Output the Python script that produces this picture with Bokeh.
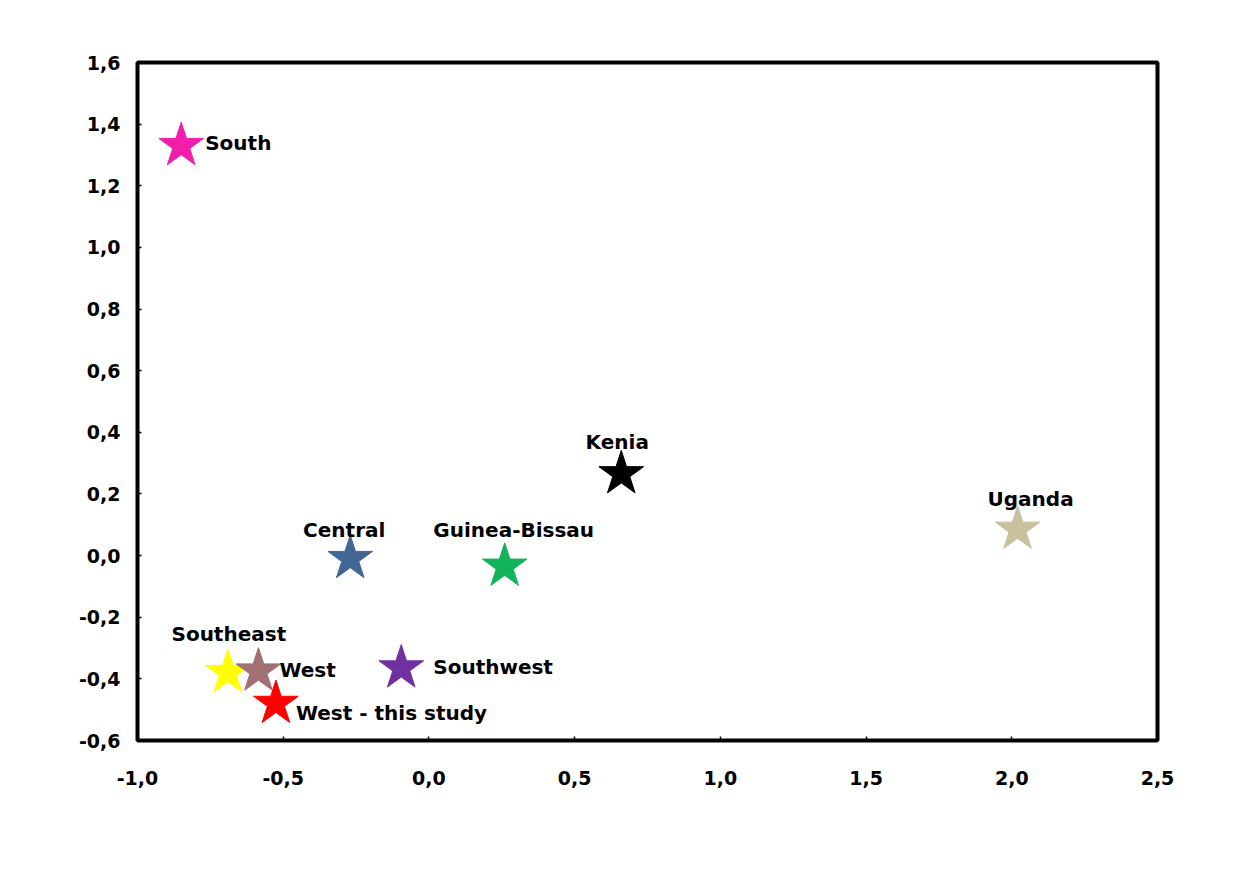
from bokeh.plotting import figure
from bokeh.models import ColumnDataSource, LinearAxis, FixedTicker, CustomJSTickFormatter, Range1d
from bokeh.core.properties import value
from bokeh.embed import file_html
from bokeh.resources import INLINE

# Data
names = ["South", "Kenia", "Uganda", "Central", "Guinea-Bissau",
         "Southeast", "West", "West - this study", "Southwest"]
xs = [-0.85, 0.66, 2.02, -0.27, 0.26, -0.69, -0.585, -0.525, -0.095]
ys = [1.33, 0.265, 0.085, -0.01, -0.035, -0.38, -0.375, -0.48, -0.365]
colors = ["#F21DAA", "#000000", "#C9C09E", "#426795", "#12B35A",
          "#FFFF00", "#A26F72", "#FF0000", "#7030A0"]
x_ticks = [-1.0, -0.5, 0.0, 0.5, 1.0, 1.5, 2.0, 2.5]
y_ticks = [-0.6, -0.4, -0.2, 0.0, 0.2, 0.4, 0.6, 0.8, 1.0, 1.2, 1.4, 1.6]

# label placement (style, pixel offsets)
lab_dx = [24, -4, 13, -6, 9, 1, 21, 20, 32]
lab_dy = [-3, -32, -30, -29, -36, -39, -1, 9, -1]
lab_align = ["left", "center", "center", "center", "center", "center", "left", "left", "left"]

src = ColumnDataSource(dict(x=xs, y=ys, c=colors, name=names,
                            dx=lab_dx, dy=lab_dy, al=lab_align))

p = figure(width=1256, height=871, output_backend="svg", toolbar_location=None,
           x_range=Range1d(-1.0, 2.5), y_range=Range1d(-0.6, 1.6),
           min_border_left=137, min_border_right=99,
           min_border_top=62, min_border_bottom=131,
           x_axis_location=None, y_axis_location=None)
p.grid.visible = False
p.outline_line_color = "black"
p.outline_line_width = 4
p.background_fill_color = "white"
p.border_fill_color = "white"

fmt = CustomJSTickFormatter(code="""
if (Math.abs(tick) < 1e-9) { return '0,0'; }
return tick.toFixed(1).replace('.', ',');
""")

def mk_axis(ticks, standoff):
    ax = LinearAxis(ticker=FixedTicker(ticks=ticks), formatter=fmt)
    ax.axis_line_color = None
    ax.major_tick_in = 4
    ax.major_tick_out = 0
    ax.major_tick_line_width = 1.5
    ax.minor_tick_line_color = None
    ax.major_label_standoff = standoff
    ax.major_label_text_font = "DejaVu Sans"
    ax.major_label_text_font_style = "bold"
    ax.major_label_text_font_size = "19px"
    ax.major_label_text_color = "black"
    return ax

p.add_layout(mk_axis(y_ticks, 17), "left")
p.add_layout(mk_axis(x_ticks, 30), "below")

p.scatter("x", "y", source=src, marker="star", size=47,
          fill_color="c", line_color="c", line_width=1)

p.text("x", "y", text="name", source=src, x_offset="dx", y_offset="dy",
       text_align="al", text_baseline="middle",
       text_font=value("DejaVu Sans"), text_font_style="bold",
       text_font_size="20px", text_color="black")

open("out.html", "w").write(file_html(p, INLINE))
